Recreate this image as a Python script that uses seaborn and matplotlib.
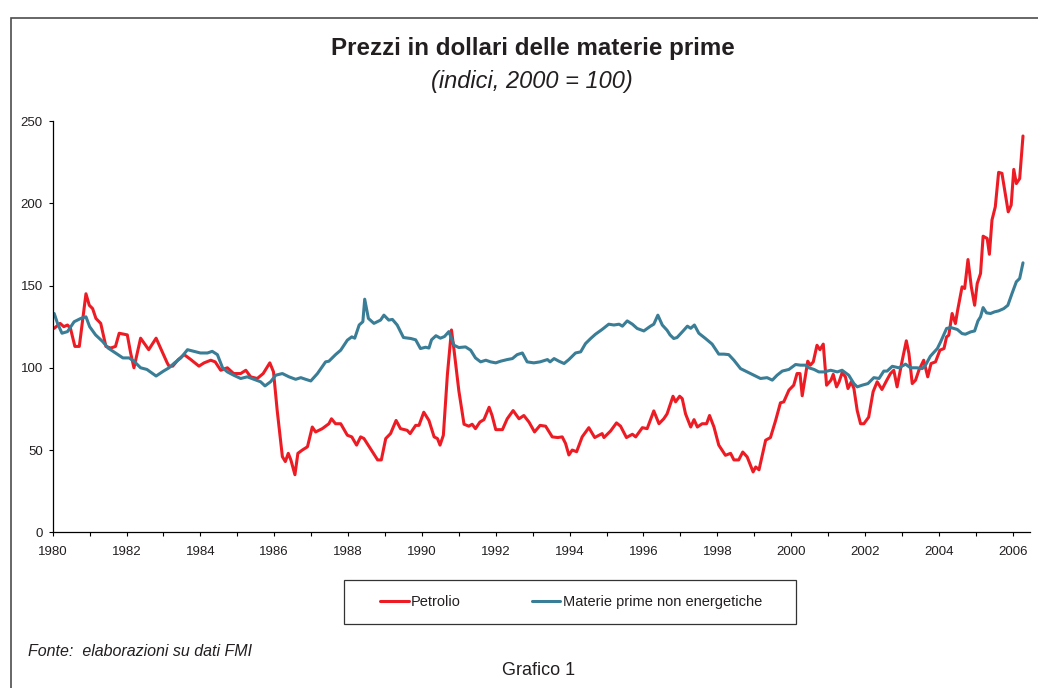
import pandas as pd
import seaborn as sns
import matplotlib.pyplot as plt
from matplotlib.lines import Line2D
from matplotlib.patches import Rectangle

# Values (monthly IMF indices, 2000 = 100)
oil_years = [1980.04, 1980.2, 1980.3, 1980.4, 1980.48, 1980.6, 1980.72, 1980.9, 1980.99, 1981.08,
             1981.17, 1981.3, 1981.44, 1981.57, 1981.7, 1981.8, 1982.02, 1982.11, 1982.2, 1982.38,
             1982.6, 1982.8, 1983.0, 1983.1, 1983.15, 1983.25, 1983.4, 1983.56, 1983.74, 1983.96,
             1984.1, 1984.28, 1984.4, 1984.55, 1984.73, 1984.9, 1985.09, 1985.23, 1985.36, 1985.54,
             1985.7, 1985.88, 1985.98, 1986.08, 1986.22, 1986.3, 1986.38, 1986.45, 1986.56, 1986.64,
             1986.76, 1986.9, 1987.03, 1987.12, 1987.3, 1987.48, 1987.55, 1987.66, 1987.8, 1987.98,
             1988.1, 1988.23, 1988.34, 1988.43, 1988.6, 1988.8, 1988.9, 1989.02, 1989.15, 1989.3,
             1989.42, 1989.6, 1989.68, 1989.83, 1989.92, 1990.05, 1990.19, 1990.33, 1990.42, 1990.49,
             1990.58, 1990.69, 1990.8, 1990.87, 1991.0, 1991.14, 1991.27, 1991.36, 1991.45, 1991.57,
             1991.68, 1991.82, 1991.9, 1992.0, 1992.18, 1992.31, 1992.47, 1992.63, 1992.76, 1992.9,
             1993.05, 1993.2, 1993.35, 1993.53, 1993.68, 1993.8, 1993.89, 1993.98, 1994.07, 1994.19,
             1994.34, 1994.52, 1994.68, 1994.88, 1994.93, 1995.11, 1995.27, 1995.38, 1995.54, 1995.7,
             1995.79, 1995.97, 1996.1, 1996.28, 1996.42, 1996.55, 1996.64, 1996.8, 1996.87, 1996.98,
             1997.05, 1997.14, 1997.28, 1997.37, 1997.46, 1997.59, 1997.71, 1997.79, 1997.91, 1998.04,
             1998.22, 1998.36, 1998.45, 1998.58, 1998.69, 1998.81, 1998.97, 1999.04, 1999.13, 1999.31,
             1999.44, 1999.58, 1999.71, 1999.8, 1999.94, 2000.07, 2000.16, 2000.24, 2000.3, 2000.45,
             2000.52, 2000.6, 2000.7, 2000.78, 2000.87, 2000.96, 2001.08, 2001.14, 2001.23, 2001.3,
             2001.38, 2001.47, 2001.54, 2001.63, 2001.7, 2001.79, 2001.88, 2001.97, 2002.1, 2002.22,
             2002.33, 2002.46, 2002.58, 2002.69, 2002.78, 2002.87, 2003.01, 2003.12, 2003.19, 2003.28,
             2003.37, 2003.46, 2003.59, 2003.7, 2003.79, 2003.91, 2004.03, 2004.14, 2004.21, 2004.27,
             2004.36, 2004.45, 2004.51, 2004.63, 2004.7, 2004.79, 2004.88, 2004.97, 2005.04, 2005.13,
             2005.2, 2005.31, 2005.37, 2005.44, 2005.53, 2005.62, 2005.71, 2005.8, 2005.88, 2005.96,
             2006.03, 2006.1, 2006.19, 2006.28]
oil_index = [124, 127, 125, 126, 124, 113, 113, 145, 138, 136,
             130, 127, 113, 112, 113, 121, 120, 109, 100, 118,
             111, 118, 108, 103, 101, 101, 105, 108, 105, 101,
             103, 104.6, 103.6, 98.5, 100, 96.5, 96.5, 98.5, 94.5, 93.5,
             96.5, 103, 97.5, 74, 46, 43, 48, 44, 35, 48,
             50, 52, 64, 61, 63, 66, 69, 66, 66, 59,
             58, 53, 58, 57, 51, 44, 44, 57, 60, 68,
             63, 62, 60, 65, 65, 73, 68, 58, 57, 53,
             59, 96, 123, 110.7, 86, 65.7, 64.5, 65.7, 63, 67,
             68.5, 76, 71, 62.4, 62.4, 69, 74, 69, 71, 67,
             61, 65, 64.5, 58, 57.6, 58, 54, 47, 50, 49,
             58, 63.6, 57.6, 60, 57.6, 61.6, 66.5, 64.5, 57.6, 59.6,
             58, 63.6, 63, 73.8, 66, 69, 72, 82.7, 79.3, 82.7,
             81.3, 72, 64, 68.5, 64, 66, 66, 71, 64, 53,
             46.8, 48, 44, 44, 48.8, 45.8, 36.7, 39.7, 38, 56,
             57.6, 68, 78.7, 79.3, 86.4, 89.4, 96.5, 96.5, 83, 104,
             101.6, 103.6, 113.7, 111, 114.4, 89.4, 92.5, 96, 88.4, 91.5,
             97, 94.5, 87.4, 91.5, 87.4, 74, 66, 66, 70, 85.4,
             91.5, 86.8, 92, 96.5, 98.5, 88.4, 104.6, 116.4, 108.7, 90.4,
             92.5, 98.5, 104.6, 94.5, 102.6, 103.6, 110.7, 111.7, 118.8, 119.8,
             133, 126.9, 135, 149.2, 148.2, 165.8, 149.2, 138, 151.2, 157.3,
             180, 178.6, 169, 189.8, 197.9, 218.8, 218.2, 206, 194.8, 198.9,
             220.6, 212, 215, 240.9]

nonfuel_years = [1980.04, 1980.13, 1980.25, 1980.4, 1980.58, 1980.76, 1980.9, 1981.0, 1981.16, 1981.35,
                 1981.5, 1981.7, 1981.9, 1982.07, 1982.2, 1982.38, 1982.55, 1982.8, 1983.0, 1983.15,
                 1983.3, 1983.47, 1983.65, 1983.83, 1984.0, 1984.19, 1984.32, 1984.46, 1984.6, 1984.73,
                 1984.9, 1985.09, 1985.27, 1985.45, 1985.63, 1985.75, 1985.9, 1986.04, 1986.22, 1986.4,
                 1986.58, 1986.72, 1986.85, 1986.99, 1987.17, 1987.39, 1987.48, 1987.66, 1987.8, 1987.98,
                 1988.1, 1988.18, 1988.3, 1988.4, 1988.45, 1988.55, 1988.7, 1988.88, 1988.97, 1989.1,
                 1989.2, 1989.33, 1989.42, 1989.5, 1989.7, 1989.83, 1989.96, 1990.1, 1990.19, 1990.26,
                 1990.38, 1990.5, 1990.61, 1990.73, 1990.87, 1991.0, 1991.18, 1991.32, 1991.45, 1991.59,
                 1991.73, 1991.86, 1992.0, 1992.13, 1992.31, 1992.45, 1992.58, 1992.72, 1992.85, 1993.03,
                 1993.2, 1993.4, 1993.47, 1993.58, 1993.71, 1993.85, 1993.98, 1994.16, 1994.3, 1994.43,
                 1994.57, 1994.7, 1994.88, 1995.06, 1995.2, 1995.34, 1995.43, 1995.56, 1995.7, 1995.83,
                 1996.01, 1996.19, 1996.28, 1996.39, 1996.51, 1996.64, 1996.72, 1996.82, 1996.91, 1997.05,
                 1997.19, 1997.28, 1997.38, 1997.5, 1997.68, 1997.86, 1998.04, 1998.18, 1998.31, 1998.45,
                 1998.63, 1998.81, 1998.99, 1999.17, 1999.35, 1999.49, 1999.62, 1999.76, 1999.94, 2000.12,
                 2000.25, 2000.39, 2000.48, 2000.62, 2000.75, 2000.89, 2001.07, 2001.25, 2001.38, 2001.56,
                 2001.7, 2001.79, 2001.92, 2002.08, 2002.24, 2002.38, 2002.51, 2002.6, 2002.74, 2002.92,
                 2003.1, 2003.23, 2003.41, 2003.55, 2003.64, 2003.77, 2003.96, 2004.05, 2004.21, 2004.32,
                 2004.5, 2004.63, 2004.72, 2004.86, 2004.97, 2005.06, 2005.13, 2005.2, 2005.29, 2005.4,
                 2005.51, 2005.62, 2005.76, 2005.87, 2005.98, 2006.1, 2006.19, 2006.28]
nonfuel_index = [133, 127, 121, 122, 128, 130, 131, 125, 120, 116,
                 112, 109, 106, 106, 104, 100, 99, 95, 98, 100,
                 103, 106, 111, 110, 109, 109, 110, 108, 100, 97.5,
                 95.5, 93.5, 94.5, 93, 91.5, 89, 91.5, 95.5, 96.5, 94.5,
                 93, 94, 93, 92, 96.5, 103.6, 104, 108, 110.7, 116.8,
                 118.8, 118, 126, 128, 141.7, 130, 127, 129, 132, 129,
                 129.4, 126, 122, 118.4, 117.8, 117, 111.7, 112.5, 112, 117,
                 119.5, 118, 119, 122, 113.7, 112.3, 112.7, 110.7, 106, 103.6,
                 104.6, 103.6, 103, 104, 105, 105.6, 108, 109, 103.6, 103,
                 103.6, 105, 103.6, 105.6, 104, 102.6, 105, 109, 109.7, 114.7,
                 117.8, 120.4, 123.3, 126.5, 126, 126.5, 125.3, 128.5, 126.5, 123.9,
                 122.4, 125.3, 126.5, 132, 126, 122.8, 120, 117.8, 118.4, 121.8,
                 125.3, 124, 126, 121, 117.8, 114.4, 108.3, 108.3, 108, 104.6,
                 99.5, 97.5, 95.5, 93.5, 94, 92.5, 95.5, 98, 99, 102,
                 101.6, 101.6, 100, 99, 97.5, 97.5, 98.5, 97.5, 98.5, 95.5,
                 90.4, 88.4, 89.4, 90.4, 94, 93.5, 98, 98, 100.9, 100,
                 102.2, 100, 100, 99.5, 101.6, 107, 111.7, 115.8, 123.9, 124.5,
                 123.3, 120.8, 120.4, 121.8, 122.4, 128.5, 131, 136.6, 133.4, 133,
                 134, 134.6, 136, 138, 145, 152.3, 154.3, 163.8]

series_names = ["Petrolio", "Materie prime non energetiche"]
colors = {"Petrolio": "#ED1C24", "Materie prime non energetiche": "#3A7D96"}

df = pd.concat([
    pd.DataFrame({"Anno": oil_years, "Indice": oil_index, "Serie": series_names[0]}),
    pd.DataFrame({"Anno": nonfuel_years, "Indice": nonfuel_index, "Serie": series_names[1]}),
])

sns.set_theme(style="ticks")
plt.rcParams["font.family"] = ["Liberation Sans", "DejaVu Sans"]
TXT = "#231F20"

fig = plt.figure(figsize=(10.38, 6.88), dpi=100)
ax = fig.add_axes([0.0508, 0.2263, 0.9415, 0.5978])

sns.lineplot(data=df, x="Anno", y="Indice", hue="Serie", hue_order=series_names,
             palette=colors, linewidth=2.2, estimator=None, sort=False,
             legend=False, ax=ax)

ax.set_xlim(1980, 2006.47)
ax.set_ylim(0, 250)
ax.set_xticks(range(1980, 2007, 2))
ax.set_xticks(range(1981, 2007, 2), minor=True)
ax.set_yticks(range(0, 251, 50))
ax.set_xlabel("")
ax.set_ylabel("")
ax.tick_params(which="both", direction="out", length=3.2, width=0.8, color="black",
               labelsize=9.5, labelcolor=TXT)
ax.tick_params(axis="x", pad=7)
ax.tick_params(axis="y", pad=4)
sns.despine(ax=ax)
for side in ["left", "bottom"]:
    ax.spines[side].set_color("black")
    ax.spines[side].set_linewidth(0.9)

# Titles and notes
fig.text(532.5 / 1038, 1 - 55 / 688, "Prezzi in dollari delle materie prime",
         ha="center", va="baseline", fontsize=17.4, fontweight="bold", color=TXT)
fig.text(532 / 1038, 1 - 88 / 688, "(indici, 2000 = 100)",
         ha="center", va="baseline", fontsize=17, style="italic", color=TXT)
fig.text(28 / 1038, 1 - 656 / 688, "Fonte:  elaborazioni su dati FMI",
         ha="left", va="baseline", fontsize=11.5, style="italic", color=TXT)
fig.text(538.5 / 1038, 1 - 675 / 688, "Grafico 1",
         ha="center", va="baseline", fontsize=13, color=TXT)

# Legend inside its own box
handles = [Line2D([0], [0], color=colors[n], linewidth=2.2, label=n) for n in series_names]
ax.legend(handles=handles, loc="center", bbox_to_anchor=(571 / 1038, 1 - 602 / 688),
          bbox_transform=fig.transFigure, ncol=2, frameon=False, fontsize=10.5,
          handlelength=1.95, handletextpad=0.15, columnspacing=4.9, labelcolor=TXT)
fig.patches.append(Rectangle((344 / 1038, 1 - 624 / 688), 452 / 1038, 44 / 688,
                             transform=fig.transFigure, fill=False,
                             edgecolor="#333333", linewidth=0.9))

# Outer frame of the figure (open at right and bottom)
fig.patches.append(Rectangle((10.5 / 1038, -0.05), 1.1, 1 - 18 / 688 + 0.05,
                             transform=fig.transFigure, fill=False,
                             edgecolor="#4D4D4D", linewidth=1.2))

fig.savefig("out.png", dpi=100)
